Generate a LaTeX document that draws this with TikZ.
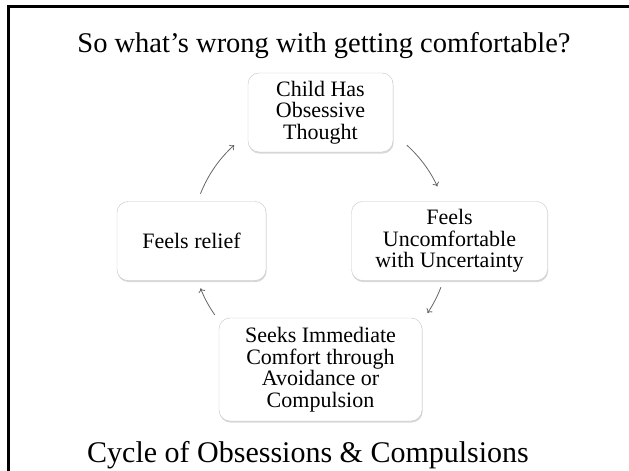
\documentclass[tikz,border=0pt]{standalone}
\usepackage{fontspec}
\setmainfont{Liberation Serif}
\usetikzlibrary{arrows.meta,shadows}
\tikzset{
  cycbox/.style={draw=black!22, fill=white, rounded corners=11pt, align=center,
    inner sep=2pt, font=\fontsize{22}{21.5}\selectfont,
    drop shadow={shadow xshift=0.6pt, shadow yshift=-1.6pt, opacity=0.25, fill=black!60}},
  cycarrow/.style={draw=black!60, line width=0.8pt, -{To[length=4pt,width=7pt]}},
}
\begin{document}
\begin{tikzpicture}[x=1pt,y=1pt]
  \useasboundingbox (0,0) rectangle (629,471);
  \draw[line width=2.6pt] (8.3,0) -- (8.3,464.7) -- (629,464.7);
  \node[anchor=base, font=\fontsize{28.5}{30}\selectfont] (title) at (324,418) {So what’s wrong with getting comfortable?};
  \node[anchor=base west, inner sep=0pt, font=\fontsize{30}{32}\selectfont] (caption) at (87,9) {Cycle of Obsessions \& Compulsions};
  \begin{scope}[shift={(191.5,358.5)}]
    \def\x{129}
    \def\y{-128.5}
    \def\r{129}
    \node[cycbox, minimum width=145pt, minimum height=79pt] (A0_1) at (1*\x,0*\y) {Child Has\\Obsessive\\Thought};
    \node[cycbox, minimum width=149pt, minimum height=79pt] (A1_0) at (0*\x,1*\y) {Feels relief};
    \node[cycbox, minimum width=196pt, minimum height=79pt] (A1_2) at (2*\x,1*\y) {Feels\\Uncomfortable\\with Uncertainty};
    \node[cycbox, minimum width=203pt, minimum height=103pt] (A2_1) at (1*\x,2*\y) {Seeks Immediate\\Comfort through\\Avoidance or\\Compulsion};
    \coordinate (A1_1) at (1*\x,1*\y);
    % the cycle runs clockwise round A1_1
    \draw[cycarrow] ([shift={(48:\r)}]A1_1) arc[start angle=48, end angle=25, radius=\r];
    \draw[cycarrow] ([shift={(-21:\r)}]A1_1) arc[start angle=-21, end angle=-34, radius=\r];
    \draw[cycarrow] ([shift={(215:\r)}]A1_1) arc[start angle=215, end angle=201.5, radius=\r];
    \draw[cycarrow] ([shift={(158.5:\r)}]A1_1) arc[start angle=158.5, end angle=132, radius=\r];
  \end{scope}
\end{tikzpicture}
\end{document}
